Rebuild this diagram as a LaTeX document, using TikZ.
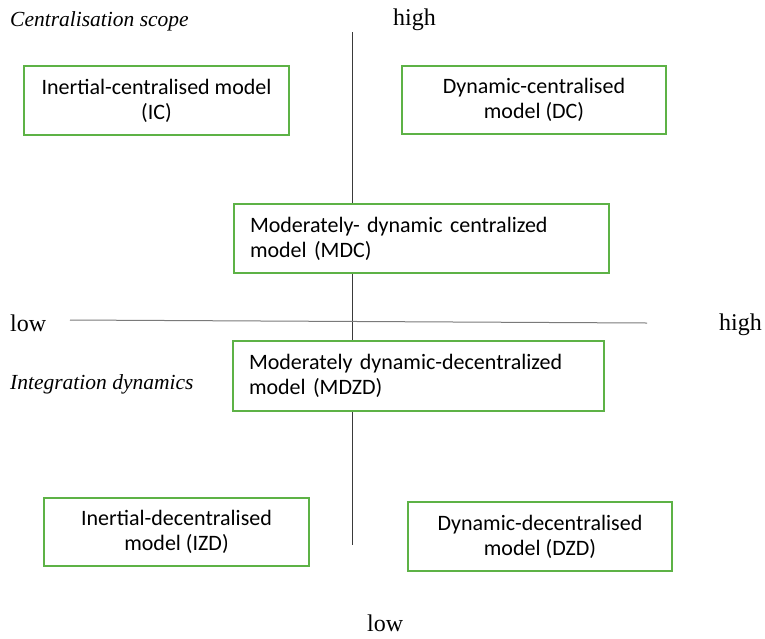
\documentclass[tikz,border=0pt]{standalone}
\usepackage{fontspec}
\setmainfont{Liberation Serif}
\newfontfamily\boxfont{Carlito}
\usepackage{tikz}
\definecolor{boxgreen}{HTML}{5DB246}
\definecolor{axisgray}{HTML}{3A3A3A}
\definecolor{axislight}{HTML}{7A7A7A}

\begin{document}
\begin{tikzpicture}[x=1pt,y=-1pt,every node/.style={font=\fontsize{24}{28}\selectfont},
      model/.style={draw=boxgreen,line width=1.3pt,fill=white,font=\boxfont\fontsize{22}{25}\selectfont,align=center,inner sep=0pt},
      modelwide/.style={model,align=left,inner xsep=16pt,text width=#1},
      axislabel/.style={anchor=west,inner sep=0pt},
      italiclabel/.style={axislabel,font=\itshape\fontsize{21.5}{26}\selectfont}]
      \useasboundingbox (0,0) rectangle (765,638);
      \coordinate (vtop) at (352,32); \coordinate (vbot) at (352,545);
      \coordinate (hleft) at (70,320); \coordinate (hright) at (647,323);
      \draw[axisgray,line width=0.9pt] (vtop)--(vbot);
      \draw[axislight,line width=1pt] (hleft)--(hright);
      \node[italiclabel] (scope) at (10,21) {Centralisation scope};
      \node[italiclabel] (dyn) at (10,384) {Integration dynamics};
      \node[axislabel] (hightop) at (393,20) {high};
      \node[axislabel] (highright) at (719,325) {high};
      \node[axislabel] (lowleft) at (10,323) {low};
      \node[axislabel] (lowbot) at (367,623) {low};
      \node[model,minimum width=265pt,minimum height=69pt] (ic) at (156.5,100.5) {Inertial-centralised model\\(IC)};
      \node[model,minimum width=264pt,minimum height=68pt] (dc) at (534,100) {Dynamic-centralised\\model (DC)};
      \node[modelwide=343pt,minimum height=69pt] (mdc) at (421.5,238.5) {Moderately- dynamic centralized\\model (MDC)};
      \node[modelwide=339pt,minimum height=70pt] (mdzd) at (418.5,376) {Moderately dynamic-decentralized\\model (MDZD)};
      \node[model,minimum width=265pt,minimum height=68pt] (izd) at (176.5,532) {Inertial-decentralised\\model (IZD)};
      \node[model,minimum width=264pt,minimum height=69pt] (dzd) at (540,536.5) {Dynamic-decentralised\\model (DZD)};
    \end{tikzpicture}
\end{document}
